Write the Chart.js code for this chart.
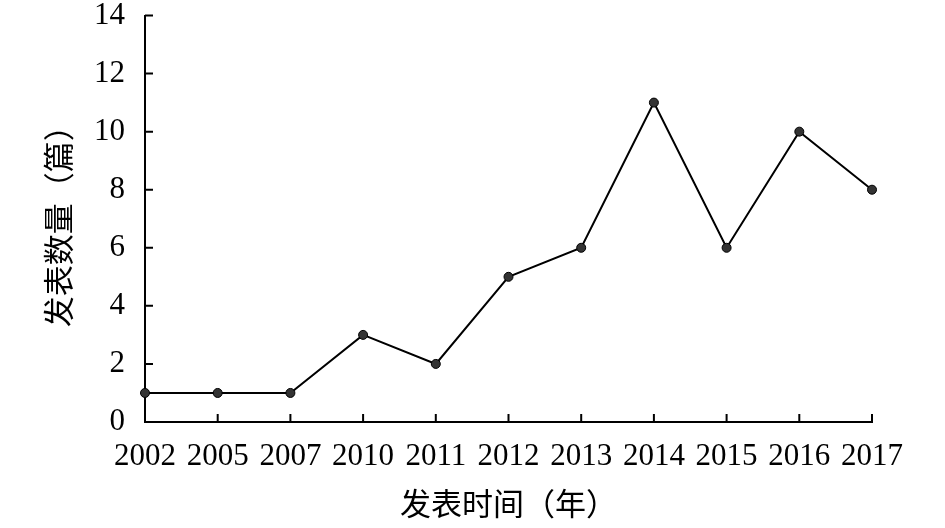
<!DOCTYPE html>
<html>
<head>
<meta charset="utf-8">
<script src="https://cdn.jsdelivr.net/npm/chart.js@4"></script>
<style>
  html, body { margin: 0; padding: 0; background: #fff; }
  #wrap { width: 945px; height: 528px; position: relative; }
</style>
</head>
<body>
<div id="wrap"><canvas id="pubChart"></canvas></div>
<script>
// Publication count per year
const years = ['2002', '2005', '2007', '2010', '2011', '2012', '2013', '2014', '2015', '2016', '2017'];
const counts = [1, 1, 1, 3, 2, 5, 6, 11, 6, 10, 8];
const yTicks = [0, 2, 4, 6, 8, 10, 12, 14];

const serif = "'Times New Roman', 'Liberation Serif', serif";
const cjk = "'Noto Sans CJK SC', sans-serif";

// tick marks drawn inside the plot, as in the original
const innerTicks = {
  id: 'innerTicks',
  afterDraw(chart) {
    const c = chart.ctx;
    const x = chart.scales.x, y = chart.scales.y;
    const len = 8;
    c.save();
    c.strokeStyle = '#000';
    c.lineWidth = 2;
    c.beginPath();
    yTicks.forEach(v => {
      const py = y.getPixelForValue(v);
      c.moveTo(x.left, py);
      c.lineTo(x.left + len, py);
    });
    years.forEach((_, i) => {
      const px = x.getPixelForTick(i);
      c.moveTo(px, y.bottom);
      c.lineTo(px, y.bottom - len);
    });
    c.stroke();
    c.restore();
  }
};

const ctx = document.getElementById('pubChart');
new Chart(ctx, {
  type: 'line',
  data: {
    labels: years,
    datasets: [{
      data: counts,
      borderColor: '#000',
      borderWidth: 2,
      tension: 0,
      fill: false,
      pointRadius: 4.5,
      pointBackgroundColor: '#333',
      pointBorderColor: '#000',
      pointBorderWidth: 1
    }]
  },
  options: {
    responsive: true,
    maintainAspectRatio: false,
    animation: false,
    layout: { padding: { top: 0, right: 73, bottom: 9.5, left: 43 } },
    plugins: { legend: { display: false }, tooltip: { enabled: false } },
    scales: {
      x: {
        offset: false,
        border: { color: '#000', width: 2 },
        // invisible outward tick space keeps the label gap without extra edge padding
        grid: { drawOnChartArea: false, color: 'rgba(0,0,0,0)', tickLength: 19.5 },
        ticks: {
          color: '#000', autoSkip: false, maxRotation: 0, padding: 0,
          font: { family: serif, size: 31, lineHeight: 1 }
        },
        title: {
          display: true, text: '发表时间（年）', color: '#000',
          font: { family: cjk, size: 31, lineHeight: 1 }, padding: { top: 15, bottom: 0 }
        }
      },
      y: {
        min: 0, max: 14,
        afterBuildTicks: axis => { axis.ticks = yTicks.map(v => ({ value: v })); },
        border: { color: '#000', width: 2 },
        grid: { drawOnChartArea: false, color: 'rgba(0,0,0,0)', tickLength: 20 },
        ticks: {
          color: '#000', padding: 0,
          font: { family: serif, size: 31, lineHeight: 1 }
        },
        title: {
          display: true, text: '发表数量（篇）', color: '#000',
          font: { family: cjk, size: 31, lineHeight: 1 }, padding: { top: 0, bottom: 20 }
        }
      }
    }
  },
  plugins: [innerTicks]
});
</script>
</body>
</html>
